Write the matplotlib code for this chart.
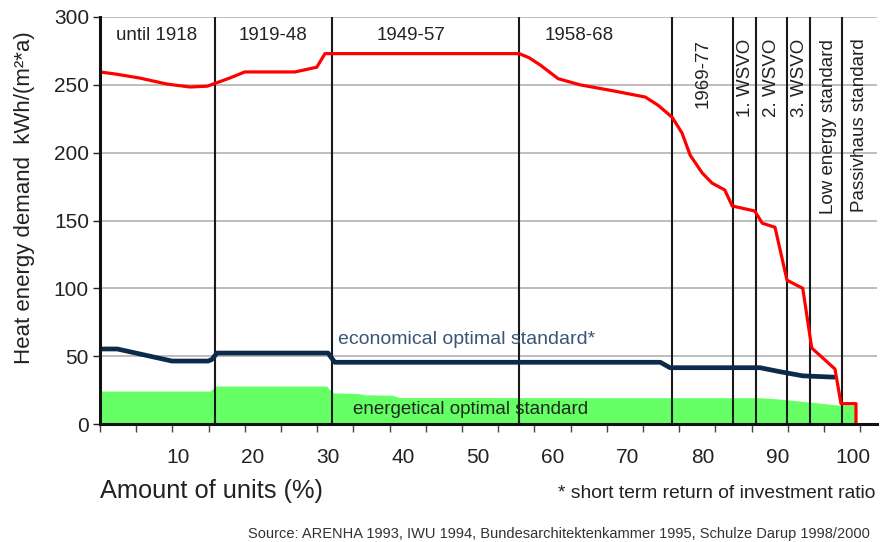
import numpy as np
import matplotlib
matplotlib.use("Agg")
import matplotlib.pyplot as plt

plt.rcParams['font.family'] = ['Liberation Sans', 'DejaVu Sans']

# ---------------- data ----------------
heat_x = [-0.4, 1.6, 4.9, 8.5, 11.6, 13.9, 14.9, 16.9, 18.9, 25.6, 28.5, 29.6,
          55.5, 56.8, 58.3, 60.7, 63.6, 68.0, 72.3, 74.0, 75.9, 77.2, 78.3, 79.9,
          81.2, 82.9, 83.9, 86.9, 87.9, 89.6, 91.2, 93.3, 94.5, 97.6, 98.4,
          100.4, 100.4]
heat_y = [259.5, 258, 255, 250.6, 248.4, 249, 251, 255, 259.5, 259.5, 263, 273,
          273, 270, 264.6, 254.5, 250, 245.6, 241, 235, 226, 214.5, 198, 185,
          177.6, 172.5, 160.7, 157, 148, 145, 106, 100, 56, 40.5, 15,
          15, 0]

econ_x = [-0.4, 1.9, 9.2, 14.0, 14.5, 15.2, 30.0, 30.9, 74.3, 75.6, 87.6, 90.3, 93.3, 97.6]
econ_y = [55.3, 55.3, 46.4, 46.4, 47.5, 52.3, 52.3, 45.5, 45.5, 41.5, 41.5, 38.5, 35.5, 34.5]

energ_x = [-0.4, 14.3, 15.0, 29.8, 30.6, 34.0, 35.0, 38.5, 39.5, 87.6, 90.0, 94.0, 98.0, 100.4]
energ_y = [24.3, 24.3, 28.0, 28.0, 23.0, 22.5, 21.5, 21.3, 19.5, 19.4, 18.5, 16.3, 14.0, 14.0]

boundaries = [14.9, 30.5, 55.5, 75.9, 84.0, 87.1, 91.2, 94.3, 98.5]

period_labels = ["until 1918", "1919-48", "1949-57", "1958-68"]
period_pos = [7.1, 22.7, 41.1, 63.5]
standard_labels = ["1969-77", "1. WSVO", "2. WSVO", "3. WSVO",
                   "Low energy standard", "Passivhaus standard"]
standard_pos = [80.0, 85.6, 89.2, 92.8, 96.7, 100.8]

x_ticks = [10, 20, 30, 40, 50, 60, 70, 80, 90, 100]
y_ticks = [0, 50, 100, 150, 200, 250, 300]

# ---------------- figure ----------------
W, H = 881, 542
fig = plt.figure(figsize=(W / 100, H / 100), dpi=100)
ax = fig.add_axes([100 / W, 1 - 424 / H, 777 / W, 407 / H])
ax.set_xlim(-0.4, 103.2)
ax.set_ylim(0, 300)

ax.set_axisbelow(True)
ax.yaxis.grid(True, color='#b3b3b3', lw=1.2)

ax.fill_between(energ_x, 0, energ_y, color='#66ff66', lw=0, zorder=1.5)
ax.vlines(boundaries, 0, 300, color='#1a1a1a', lw=1.5, zorder=2)
ax.plot(econ_x, econ_y, color='#0c2b4b', lw=3.4, solid_joinstyle='round',
        solid_capstyle='butt', zorder=3)
ax.plot(heat_x, heat_y, color='#ff0000', lw=2.3, solid_joinstyle='round', zorder=4)

for s in ['top', 'right']:
    ax.spines[s].set_visible(False)
for s in ['left', 'bottom']:
    ax.spines[s].set_linewidth(2.2)
    ax.spines[s].set_color('#111111')
    ax.spines[s].set_zorder(5)

ax.set_yticks(y_ticks)
ax.set_xticks(x_ticks)
ax.set_xticks(np.arange(22) * 4.827 - 0.4, minor=True)
ax.tick_params(axis='y', direction='out', length=5, width=1, pad=3,
               labelsize=15, colors='#222222')
ax.tick_params(axis='x', which='major', length=0, pad=17, labelsize=15,
               labelcolor='#222222')
ax.tick_params(axis='x', which='minor', direction='out', length=6, width=1,
               color='#444444')

for lab, xp in zip(period_labels, period_pos):
    ax.text(xp, 286.5, lab, ha='center', va='center', fontsize=13.5, color='#222222')
for lab, xp in zip(standard_labels, standard_pos):
    ax.text(xp, 284, lab, ha='center', va='top', rotation=90, fontsize=13.5,
            color='#222222')

ax.text(48.5, 62, "economical optimal standard*", ha='center', va='center',
        fontsize=14, color='#3a5577', zorder=6)
ax.text(49.0, 10.5, "energetical optimal standard", ha='center', va='center',
        fontsize=13.5, color='#1c2a1c', zorder=6)

fig.text(25 / W, 1 - 198 / H, "Heat energy demand  kWh/(m²*a)", rotation=90,
         ha='center', va='center', fontsize=16, color='#222222')
fig.text(100 / W, 1 - 491 / H, "Amount of units (%)", ha='left', va='center',
         fontsize=18.3, color='#222222')
fig.text(558 / W, 1 - 493 / H, "* short term return of investment ratio",
         ha='left', va='center', fontsize=13.9, color='#222222')
fig.text(870 / W, 1 - 534 / H,
         "Source: ARENHA 1993, IWU 1994, Bundesarchitektenkammer 1995, Schulze Darup 1998/2000",
         ha='right', va='center', fontsize=10.55, color='#333333')

fig.savefig("out.png", dpi=100)
